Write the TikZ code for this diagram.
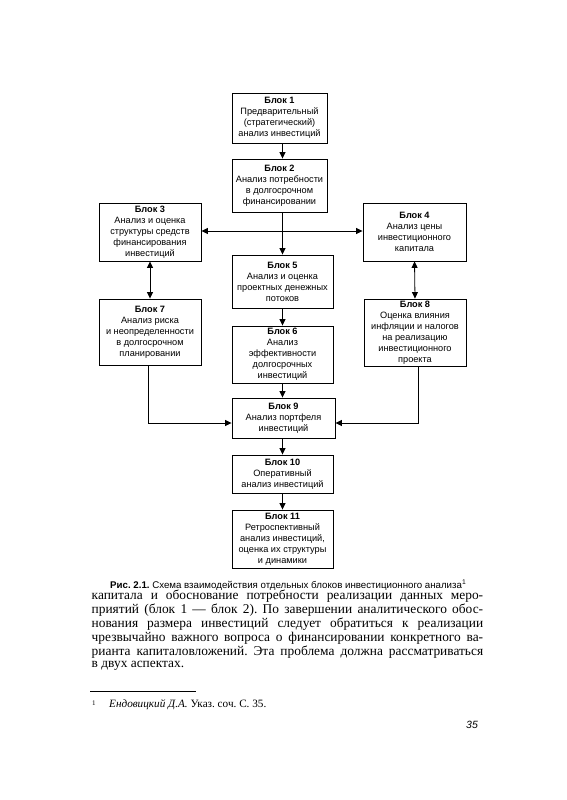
\documentclass[tikz,border=0pt]{standalone}
\usepackage{fontspec}
\setmainfont{Liberation Serif}
\setsansfont{Liberation Sans}
\usetikzlibrary{arrows.meta}
\begin{document}
\frenchspacing
\begin{tikzpicture}[x=1pt,y=-1pt,
  blk/.style={draw,line width=0.9pt,inner sep=0pt,align=center,
    font=\sffamily\fontsize{9.2}{11}\selectfont},
  conn/.style={line width=0.8pt,-{Triangle[length=6.5pt,width=6pt]}},
  dconn/.style={line width=0.8pt,{Triangle[length=6.5pt,width=6pt]}-{Triangle[length=6.5pt,width=6pt]}},
  body/.style={anchor=west,inner sep=0pt,font=\fontsize{13.4}{14}\selectfont}]
\useasboundingbox (0,0) rectangle (566,800);
\fill[white] (0,0) rectangle (566,800);
% blocks
\node[blk,minimum width=95pt,minimum height=50pt] (b1) at (279.5,118) {\textbf{Блок 1}\\Предварительный\\(стратегический)\\анализ инвестиций};
\node[blk,minimum width=95pt,minimum height=53pt] (b2) at (279.5,185.5) {\textbf{Блок 2}\\Анализ потребности\\в долгосрочном\\финансировании};
\node[blk,minimum width=102pt,minimum height=58pt] (b3) at (150,232) {\textbf{Блок 3}\\Анализ и оценка\\структуры средств\\финансирования\\инвестиций};
\node[blk,minimum width=103pt,minimum height=58pt] (b4) at (414.5,232) {\textbf{Блок 4}\\Анализ цены\\инвестиционного\\капитала};
\node[blk,minimum width=101pt,minimum height=53pt] (b5) at (282.5,281.5) {\textbf{Блок 5}\\Анализ и оценка\\проектных денежных\\потоков};
\node[blk,minimum width=101pt,minimum height=57pt] (b6) at (282.5,354.5) {\textbf{Блок 6}\\Анализ\\эффективности\\долгосрочных\\инвестиций};
\node[blk,minimum width=102pt,minimum height=66pt] (b7) at (150,332) {\textbf{Блок 7}\\Анализ риска\\и неопределенности\\в долгосрочном\\планировании};
\node[blk,minimum width=102pt,minimum height=67pt] (b8) at (415,332.5) {\textbf{Блок 8}\\Оценка влияния\\инфляции и налогов\\на реализацию\\инвестиционного\\проекта};
\node[blk,minimum width=103pt,minimum height=40pt] (b9) at (283.5,418) {\textbf{Блок 9}\\Анализ портфеля\\инвестиций};
\node[blk,minimum width=101pt,minimum height=38pt] (b10) at (282.5,474) {\textbf{Блок 10}\\Оперативный\\анализ инвестиций};
\node[blk,minimum width=101pt,minimum height=58pt] (b11) at (282.5,539) {\textbf{Блок 11}\\Ретроспективный\\анализ инвестиций,\\оценка их структуры\\и динамики};
% column coordinates
\coordinate (col) at (282.5,0);
\coordinate (lc) at (148.5,0);
\coordinate (rc) at (418,0);
\coordinate (hy) at (0,231);
\coordinate (jy) at (0,423);
% connectors
\draw[conn] (b1.south -| col) -- (b2.north -| col);
\draw[conn] (b2.south -| col) -- (b5.north -| col);
\draw[dconn] (b3.east |- hy) -- (b4.west |- hy);
\draw[dconn] (b3.south) -- (b7.north);
\draw[dconn] (b4.south) -- (b8.north);
\draw[conn] (b5.south -| col) -- (b6.north -| col);
\draw[conn] (b6.south -| col) -- (b9.north -| col);
\draw[conn] (b7.south -| lc) |- (b9.west |- jy);
\draw[conn] (b8.south -| rc) |- (b9.east |- jy);
\draw[conn] (b9.south -| col) -- (b10.north -| col);
\draw[conn] (b10.south -| col) -- (b11.north -| col);
% caption
\node[anchor=west,inner sep=0pt,font=\sffamily\fontsize{9.7}{11}\selectfont] (cap) at (110,585)
  {\textbf{Рис. 2.1.} Схема взаимодействия отдельных блоков инвестиционного анализа\textsuperscript{1}};
% body text
\node[body] (l1) at (91.5,596) {\makebox[391.5pt][s]{капитала и обоснование потребности реализации данных меро-}};
\node[body] (l2) at (91.5,610) {\makebox[391.5pt][s]{приятий (блок 1 — блок 2). По завершении аналитического обос-}};
\node[body] (l3) at (91.5,624) {\makebox[391.5pt][s]{нования размера инвестиций следует обратиться к реализации}};
\node[body] (l4) at (91.5,638) {\makebox[391.5pt][s]{чрезвычайно важного вопроса о финансировании конкретного ва-}};
\node[body] (l5) at (91.5,652) {\makebox[391.5pt][s]{рианта капиталовложений. Эта проблема должна рассматриваться}};
\node[body] (l6) at (91.5,666) {в двух аспектах.};
% footnote
\draw[line width=0.8pt] (90,691) -- (196,691);
\node[anchor=west,inner sep=0pt,font=\fontsize{7}{8}\selectfont] (fn1) at (92,703) {1};
\node[anchor=west,inner sep=0pt,font=\fontsize{11.2}{12}\selectfont] (fn) at (109,705) {\textit{Ендовицкий Д.А.} Указ. соч. С. 35.};
\node[anchor=west,inner sep=0pt,font=\sffamily\itshape\fontsize{10.5}{12}\selectfont] (pg) at (466,725) {35};
\end{tikzpicture}
\end{document}
